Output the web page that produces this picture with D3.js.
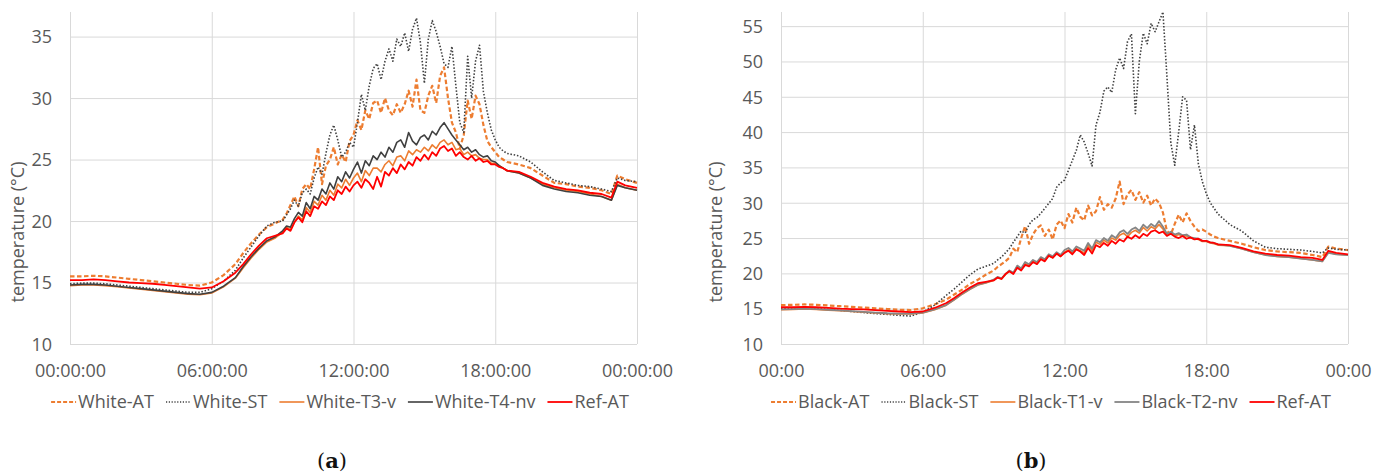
<!DOCTYPE html>
<html>
<head>
<meta charset="utf-8">
<script src="https://cdn.jsdelivr.net/npm/d3@7"></script>
<style>
  body { margin: 0; background: #ffffff; }
  svg text { font-family: "Open Sans", "Noto Sans", sans-serif; }
  svg text.caption { font-family: "DejaVu Serif", "Liberation Serif", serif; }
</style>
</head>
<body>
<svg id="chart" width="1386" height="476"></svg>
<script>
// Sampling times, minutes after midnight: half-hourly at night,
// 20-minute steps in the early morning, 10-minute steps through the day.
const minutes = [
  0, 30, 60, 90, 120, 150, 180, 210, 240, 270, 300, 330, 360, 390, 420,
  440, 460, 480, 500, 520,
  540, 550, 560, 570, 580, 590,
  600, 610, 620, 630, 640, 650,
  660, 670, 680, 690, 700, 710,
  720, 730, 740, 750, 760, 770,
  780, 790, 800, 810, 820, 830,
  840, 850, 860, 870, 880, 890,
  900, 910, 920, 930, 940, 950,
  960, 970, 980, 990, 1000, 1010,
  1020, 1030, 1040, 1050, 1060, 1070,
  1080, 1090, 1100, 1110,
  1140, 1170, 1200, 1230, 1260, 1290, 1320, 1350, 1375, 1390, 1410, 1440
];

// Reference air temperature (°C), shared by both panels
const refAT = [
  15.2, 15.2, 15.25, 15.2, 15.1, 15.0, 14.95, 14.9, 14.8, 14.7, 14.6, 14.5, 14.6, 15.1, 15.8,
  16.5, 17.3, 18.0, 18.6, 18.8,
  19.0, 19.4, 19.2, 19.9, 20.3, 19.9,
  20.8, 20.4, 21.2, 21.0, 21.6, 21.3,
  22.0, 21.7, 22.5, 22.2, 22.8, 22.4,
  22.9, 23.2, 22.7, 23.4, 23.1, 22.6,
  23.6, 22.8, 24.0, 23.7, 24.3, 23.9,
  24.6, 24.2, 24.8, 24.5, 25.2, 24.9,
  25.4, 25.0, 25.6, 25.3, 25.9, 26.1,
  25.7, 25.9, 25.3, 25.6, 25.2, 25.0,
  25.3, 24.9, 25.1, 24.8, 24.9, 24.6,
  24.6, 24.4, 24.3, 24.1,
  24.0, 23.6, 23.1, 22.8, 22.6, 22.5, 22.3, 22.2, 21.9, 23.2, 22.9, 22.7
];

// White roof
const whiteAT = [
  15.5, 15.5, 15.55, 15.5, 15.4, 15.3, 15.2, 15.1, 15.0, 14.9, 14.8, 14.75, 15.0, 15.6, 16.5,
  17.4, 18.2, 18.9, 19.5, 19.8,
  20.1, 20.6, 21.3, 22.0, 21.2, 22.6,
  23.0, 22.6, 24.2, 26.0, 23.0, 24.5,
  25.0, 26.0, 24.6, 25.4, 24.8, 26.5,
  27.0, 28.2, 27.4, 29.0, 28.3, 29.6,
  29.8, 28.8, 30.0, 29.0, 28.6, 29.5,
  28.8, 29.5, 30.6, 29.3, 31.5, 29.0,
  28.8, 30.2, 31.0, 29.6, 31.8, 32.5,
  30.0, 28.0, 27.2, 25.9, 27.0, 29.8,
  28.3, 30.2, 29.5, 27.8, 26.5, 26.0,
  25.6, 25.2, 25.0, 24.8,
  24.6, 24.3, 23.7, 23.1, 23.0, 22.8, 22.7, 22.5, 22.2, 23.7, 23.4, 23.1
];
const whiteST = [
  14.9, 14.95, 14.95, 14.9, 14.8, 14.7, 14.6, 14.5, 14.4, 14.3, 14.2, 14.2, 14.5, 15.1, 16.0,
  17.0, 17.9, 18.8, 19.6, 19.9,
  20.0, 20.5, 21.0, 21.7, 21.2, 22.3,
  22.6, 22.2, 23.5, 24.4, 23.8, 25.5,
  27.0, 27.8, 26.6, 25.2, 25.6, 26.4,
  26.0, 28.0, 30.3, 29.0, 31.0, 32.4,
  32.8, 31.5, 33.0, 34.0, 33.0, 34.8,
  34.2, 35.3, 33.8, 35.6, 36.5, 34.5,
  31.2, 34.8, 36.3, 35.4, 34.2, 32.8,
  32.5, 34.2, 31.0, 28.0, 27.2, 33.4,
  30.0, 33.0, 34.3, 30.5, 28.8, 27.4,
  26.6, 26.0, 25.7, 25.5,
  25.3, 24.8, 24.0, 23.3, 23.1, 22.9, 22.8, 22.6, 22.4, 23.5, 23.3, 23.2
];
const whiteT3v = [
  14.75, 14.8, 14.8, 14.75, 14.65, 14.55, 14.45, 14.35, 14.25, 14.15, 14.05, 14.0, 14.15, 14.65, 15.35,
  16.2, 17.0, 17.7, 18.3, 18.6,
  19.1, 19.5, 19.3, 19.9, 20.4, 20.1,
  21.1, 20.7, 21.6, 21.3, 22.1, 21.7,
  22.5, 22.1, 23.0, 22.7, 23.4, 22.9,
  23.5, 23.9, 23.2, 24.1, 23.7, 24.3,
  24.3, 24.0, 24.6, 24.9, 24.5, 25.2,
  25.3, 24.9, 25.7, 25.4, 25.8, 25.6,
  26.0, 25.7, 26.2, 25.9, 26.4, 26.6,
  26.2, 26.4, 25.8, 25.9, 25.4, 25.6,
  25.3, 25.4, 25.1, 25.0, 25.0, 24.7,
  24.7, 24.5, 24.3, 24.1,
  23.9, 23.5, 23.0, 22.7, 22.5, 22.4, 22.2, 22.0, 21.7, 23.0, 22.7, 22.5
];
const whiteT4nv = [
  14.8, 14.85, 14.85, 14.8, 14.7, 14.6, 14.5, 14.4, 14.3, 14.2, 14.1, 14.05, 14.2, 14.7, 15.4,
  16.3, 17.1, 17.8, 18.4, 18.7,
  19.2, 19.6, 19.5, 20.2, 20.7, 20.4,
  21.5, 21.0, 22.0, 21.7, 22.6, 22.2,
  23.1, 22.6, 23.6, 23.2, 24.0, 23.5,
  24.2, 24.8, 23.9, 24.9, 24.5, 25.3,
  25.0, 25.6, 25.2, 26.0, 25.6, 26.4,
  26.6, 26.0, 27.2, 26.5, 26.2, 26.8,
  27.0, 26.6, 27.3, 27.0, 27.6, 28.0,
  27.5, 27.0, 26.6, 26.2, 25.8, 26.0,
  25.6, 25.8, 25.4, 25.2, 25.3, 24.9,
  24.8, 24.5, 24.3, 24.1,
  23.9, 23.5, 22.9, 22.6, 22.4, 22.3, 22.1, 22.0, 21.7, 22.9, 22.7, 22.5
];

// Black roof
const blackAT = [
  15.5, 15.55, 15.6, 15.55, 15.45, 15.35, 15.25, 15.15, 15.05, 14.95, 14.85, 14.8, 15.05, 15.6, 16.3,
  17.0, 17.7, 18.5, 19.1, 19.8,
  20.4, 20.9, 21.3, 21.7, 22.2, 23.5,
  23.0, 25.0, 26.7, 24.2, 25.5, 26.4,
  26.8, 25.3, 26.2, 24.8, 26.9, 27.5,
  26.4, 28.4, 27.2, 29.3, 28.0, 27.5,
  29.6, 28.2, 28.8, 30.8, 29.0, 29.8,
  29.3, 30.6, 33.0, 29.8, 31.2, 31.8,
  30.4, 31.5, 30.0, 31.0, 29.6, 30.6,
  30.0, 28.6, 26.0, 25.5, 27.0, 28.3,
  27.2, 28.5, 27.4, 26.6, 26.0, 26.2,
  25.9, 25.5, 25.2, 25.0,
  24.6, 24.2, 23.7, 23.3, 23.1, 23.0, 22.9, 22.6, 22.3, 23.8, 23.5, 23.3
];
const blackST = [
  15.0, 15.0, 15.05, 15.0, 14.9, 14.75, 14.6, 14.45, 14.3, 14.2, 14.05, 13.95, 14.5, 15.5, 16.9,
  17.8, 18.8, 19.8, 20.6, 21.0,
  21.4, 21.9, 22.3, 22.9, 23.5, 24.4,
  25.2, 26.0, 25.7, 26.9, 27.6, 27.9,
  28.5, 29.2, 29.9, 30.6, 32.2, 32.8,
  33.2, 34.6, 36.0, 37.4, 39.6, 38.6,
  37.0, 35.2, 41.0, 42.8, 45.8, 46.4,
  45.6, 48.8, 50.5, 49.0, 52.8, 53.9,
  42.6, 50.0, 54.0, 52.5, 55.4, 54.2,
  55.6, 57.0, 48.0, 38.5, 35.3, 40.0,
  45.0, 44.5, 37.5, 41.0, 35.5, 33.0,
  31.3, 30.0, 29.2, 28.4,
  26.9, 26.0, 24.6, 23.7, 23.5, 23.4, 23.3, 23.1, 22.9, 23.6, 23.4, 23.3
];
const blackT1v = [
  14.85, 14.9, 14.95, 14.9, 14.8, 14.7, 14.6, 14.5, 14.4, 14.3, 14.25, 14.25, 14.4, 14.85, 15.5,
  16.25, 17.05, 17.75, 18.35, 18.65,
  19.0, 19.4, 19.2, 19.8, 20.3, 20.0,
  21.0, 20.6, 21.4, 21.1, 21.7, 21.4,
  22.1, 21.8, 22.5, 22.2, 22.8, 22.4,
  23.0, 23.3, 22.9, 23.5, 23.2, 22.9,
  24.0, 23.2, 24.4, 24.1, 24.7, 24.3,
  25.0, 24.7, 25.4, 25.7, 25.2, 25.8,
  26.1, 25.7, 26.5, 26.0, 26.6, 26.3,
  26.9, 26.3, 25.4, 25.7, 25.3, 25.5,
  25.3, 25.3, 25.0, 24.9, 24.8, 24.5,
  24.5, 24.3, 24.2, 24.0,
  23.9, 23.5, 23.0, 22.6, 22.4, 22.3, 22.1, 21.9, 21.7, 23.0, 22.7, 22.6
];
const blackT2nv = [
  14.9, 14.95, 15.0, 14.95, 14.85, 14.75, 14.65, 14.55, 14.45, 14.35, 14.3, 14.3, 14.45, 14.9, 15.55,
  16.3, 17.1, 17.8, 18.4, 18.7,
  19.1, 19.5, 19.3, 19.9, 20.4, 20.1,
  21.1, 20.7, 21.6, 21.3, 21.9, 21.6,
  22.3, 22.0, 22.7, 22.4, 23.0, 22.6,
  23.3, 23.6, 23.1, 23.8, 23.5, 23.2,
  24.3, 23.5, 24.7, 24.4, 25.0, 24.6,
  25.4, 25.0, 25.8, 26.1, 25.6, 26.2,
  26.5, 26.0, 26.9, 26.4, 27.0, 26.6,
  27.4, 26.6, 25.6, 25.9, 25.5, 25.7,
  25.4, 25.5, 25.1, 25.0, 24.9, 24.6,
  24.6, 24.4, 24.3, 24.1,
  23.9, 23.5, 23.0, 22.6, 22.4, 22.3, 22.1, 21.9, 21.7, 22.9, 22.7, 22.6
];

// Axis ticks and labels
const xTickMinutes = [0, 360, 720, 1080, 1440];
const xTickLabelsA = ["00:00:00", "06:00:00", "12:00:00", "18:00:00", "00:00:00"];
const xTickLabelsB = ["00:00", "06:00", "12:00", "18:00", "00:00"];
const yTicksA = [10, 15, 20, 25, 30, 35];
const yTicksB = [10, 15, 20, 25, 30, 35, 40, 45, 50, 55];

// Series names
const namesA = ["White-AT", "White-ST", "White-T3-v", "White-T4-nv", "Ref-AT"];
const namesB = ["Black-AT", "Black-ST", "Black-T1-v", "Black-T2-nv", "Ref-AT"];

// Line styles in drawing order
const styleAT  = { stroke: "#ED7D31", width: 2.2, dash: "4.5,2.5", legendDash: "4,2" };
const styleST  = { stroke: "#404040", width: 1.6, dash: "1.5,1.8", legendDash: "1.2,1.6" };
const styleV   = { stroke: "#ED7D31", width: 1.6, dash: null, legendDash: null };
const styleNV1 = { stroke: "#404040", width: 1.6, dash: null, legendDash: null };
const styleNV2 = { stroke: "#858585", width: 1.8, dash: null, legendDash: null };
const styleRef = { stroke: "#FF0000", width: 1.8, dash: null, legendDash: null };

const svg = d3.select("#chart");
const textColor = "#595959";
const gridColor = "#d9d9d9";

function drawPanel(cfg) {
  const x = d3.scaleLinear().domain([0, 1440]).range([cfg.x0, cfg.x1]);
  const y = d3.scaleLinear().domain(cfg.yDomain).range([344, 12]);
  const g = svg.append("g");

  // horizontal gridlines + value labels
  const yAxis = d3.axisLeft(y)
    .tickValues(cfg.yTicks)
    .tickSize(-(cfg.x1 - cfg.x0))
    .tickPadding(18)
    .tickFormat(d3.format("d"));
  const gy = g.append("g").attr("transform", `translate(${cfg.x0},0)`).call(yAxis);
  gy.select(".domain").remove();
  gy.selectAll(".tick line").attr("stroke", gridColor).attr("stroke-width", 1);
  gy.selectAll(".tick text")
    .attr("fill", textColor).attr("font-size", 18).attr("dy", "0.35em");

  // vertical gridlines + time labels
  const xAxis = d3.axisBottom(x)
    .tickValues(xTickMinutes)
    .tickSize(-(344 - 12))
    .tickPadding(20)
    .tickFormat((d, i) => cfg.xLabels[i]);
  const gx = g.append("g").attr("transform", "translate(0,344)").call(xAxis);
  gx.select(".domain").remove();
  gx.selectAll(".tick line").attr("stroke", gridColor).attr("stroke-width", 1);
  gx.selectAll(".tick text").attr("fill", textColor).attr("font-size", 18);

  // axis title
  g.append("text")
    .attr("transform", `translate(${cfg.titleX},232) rotate(-90)`)
    .attr("text-anchor", "middle")
    .attr("fill", textColor).attr("font-size", 18)
    .text("temperature (°C)");

  // series lines
  const line = d3.line()
    .x((d, i) => x(minutes[i]))
    .y(d => y(d))
    .curve(d3.curveLinear);
  cfg.series.forEach(s => {
    g.append("path")
      .datum(s.values)
      .attr("fill", "none")
      .attr("stroke", s.style.stroke)
      .attr("stroke-width", s.style.width)
      .attr("stroke-dasharray", s.style.dash)
      .attr("stroke-linejoin", "round")
      .attr("d", line);
  });

  // legend, centred under the panel
  const lg = g.append("g").attr("transform", "translate(0,402)");
  const items = lg.selectAll("g.item").data(cfg.series).join("g").attr("class", "item");
  items.append("line")
    .attr("x1", 0).attr("x2", 25).attr("y1", 0).attr("y2", 0)
    .attr("stroke", d => d.style.stroke)
    .attr("stroke-width", d => Math.min(d.style.width, 2))
    .attr("stroke-dasharray", d => d.style.legendDash);
  items.append("text")
    .attr("x", 27).attr("dy", "0.35em")
    .attr("fill", textColor).attr("font-size", 18)
    .text(d => d.name);
  const widths = [];
  items.each(function () { widths.push(this.getBBox().width); });
  const gap = 12;
  const total = d3.sum(widths) + gap * (widths.length - 1);
  let cursor = cfg.legendCenter - total / 2;
  items.each(function (d, i) {
    d3.select(this).attr("transform", `translate(${cursor},0)`);
    cursor += widths[i] + gap;
  });

  // panel caption
  const cap = svg.append("text")
    .attr("class", "caption")
    .attr("x", cfg.captionX).attr("y", 468)
    .attr("text-anchor", "middle")
    .attr("font-size", 21).attr("fill", "#111");
  cap.append("tspan").text("(");
  cap.append("tspan").attr("font-weight", "bold").text(cfg.caption);
  cap.append("tspan").text(")");
}

drawPanel({
  x0: 70, x1: 637, yDomain: [10, 37], yTicks: yTicksA, xLabels: xTickLabelsA,
  titleX: 24, legendCenter: 340, captionX: 332, caption: "a",
  series: [
    { name: namesA[0], values: whiteAT, style: styleAT },
    { name: namesA[1], values: whiteST, style: styleST },
    { name: namesA[2], values: whiteT3v, style: styleV },
    { name: namesA[3], values: whiteT4nv, style: styleNV1 },
    { name: namesA[4], values: refAT, style: styleRef }
  ]
});

drawPanel({
  x0: 781, x1: 1348, yDomain: [10, 57], yTicks: yTicksB, xLabels: xTickLabelsB,
  titleX: 722, legendCenter: 1051, captionX: 1031, caption: "b",
  series: [
    { name: namesB[0], values: blackAT, style: styleAT },
    { name: namesB[1], values: blackST, style: styleST },
    { name: namesB[2], values: blackT1v, style: styleV },
    { name: namesB[3], values: blackT2nv, style: styleNV2 },
    { name: namesB[4], values: refAT, style: styleRef }
  ]
});
</script>
</body>
</html>
